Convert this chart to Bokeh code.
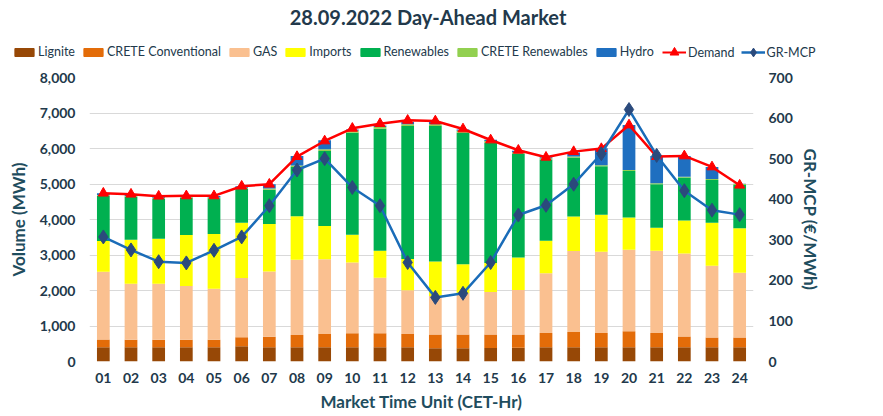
from bokeh.plotting import figure
from bokeh.models import Range1d, LinearAxis, FactorRange, Legend, LegendItem, NumeralTickFormatter, ColumnDataSource
from bokeh.layouts import column
from bokeh.embed import file_html
from bokeh.resources import INLINE

hours = ["%02d" % h for h in range(1, 25)]
lignite = [400,400,400,400,400,430,400,400,400,400,400,400,375,375,380,385,400,400,400,400,400,400,400,400]
crete_conv = [220,210,210,210,215,254,300,350,378,396,396,378,384,385,380,375,406,434,406,453,406,303,275,275]
gas = [1910,1583,1583,1517,1434,1668,1836,2117,2099,1996,1565,1227,1087,1161,1198,1255,1677,2277,2286,2295,2314,2342,2024,1827]
imports = [862,1237,1265,1434,1546,1555,1340,1228,937,778,759,881,974,815,815,918,918,974,1040,909,647,928,1208,1255]
renewables = [1274,1208,1133,1059,1002,965,965,1386,2117,2877,3439,3748,3814,3711,3392,2923,2287,1659,1368,1312,1227,1209,1209,1218]
crete_ren = [25,25,25,25,25,25,30,40,45,50,50,50,50,50,45,40,35,30,25,25,25,25,25,25]
hydro = [49,50,41,21,41,41,120,270,255,40,40,60,60,40,40,40,30,110,481,1268,772,584,340,10]
demand = [4741,4713,4657,4666,4666,4938,4994,5772,6212,6568,6700,6793,6775,6550,6240,5950,5753,5912,5997,6662,5772,5791,5481,4966]
mcp = [307,275,246,243,274,307,384,472,500,429,384,244,158,168,244,361,385,437,512,621,508,421,373,362]

series = ["Lignite", "CRETE Conventional", "GAS", "Imports", "Renewables", "CRETE Renewables", "Hydro"]
colors = ["#974806", "#e36c09", "#fac090", "#ffff00", "#00b050", "#92d050", "#1f6fc0"]
DEM_C = "#ff0000"
MCP_LINE = "#1a6cb8"
MCP_MARK = "#2b4a7c"

data = dict(hour=hours, demand=demand, mcp=mcp)
for name, vals in zip(series, [lignite, crete_conv, gas, imports, renewables, crete_ren, hydro]):
    data[name] = vals
src = ColumnDataSource(data)

TXT = "#22394b"
LBL = "#1f4d5e"
FONT = "Lato"

# ---- header figure: title + legend ----
hdr = figure(width=880, height=67, x_range=Range1d(0, 1), y_range=Range1d(0, 1),
             output_backend="svg", toolbar_location=None,
             min_border_left=0, min_border_right=20, min_border_top=0, min_border_bottom=0)
hdr.frame_align = False
hdr.axis.visible = False
hdr.grid.visible = False
hdr.outline_line_color = None
hdr.title.text = "28.09.2022  Day-Ahead Market"
hdr.title.align = "center"
hdr.title.text_font = FONT
hdr.title.text_font_size = "20px"
hdr.title.text_color = TXT
hdr.title.text_font_style = "bold"
hdr.title.offset = 0
hdr.title.standoff = 4

nan = float("nan")
bar_dummies = []
for c in colors:
    s = ColumnDataSource(dict(x=[nan], t=[nan]))
    bar_dummies.append([hdr.vbar(x="x", top="t", width=0.5, color=c, source=s)])
s = ColumnDataSource(dict(x=[nan], y=[nan]))
line_dummies = [
    [hdr.line("x", "y", color=DEM_C, line_width=2, source=s),
     hdr.scatter("x", "y", marker="triangle", size=9, color=DEM_C, source=s)],
    [hdr.line("x", "y", color=MCP_LINE, line_width=2.5, source=s),
     hdr.scatter("x", "y", marker="diamond", size=12, color=MCP_MARK, source=s)],
]

common = dict(orientation="horizontal", label_standoff=2, spacing=6, padding=0, margin=0,
              border_line_color=None, background_fill_alpha=0, label_height=14,
              label_text_font=FONT, label_text_font_size="12.5px", label_text_color=TXT)
legend1 = Legend(items=[LegendItem(label=l, renderers=r) for l, r in zip(series, bar_dummies)],
                 glyph_width=24, glyph_height=10, location=(12, 8), **common)
legend2 = Legend(items=[LegendItem(label=l, renderers=r) for l, r in zip(["Demand", "GR-MCP"], line_dummies)],
                 glyph_width=24, glyph_height=22, location=(662, 4), **common)
hdr.add_layout(legend1)
hdr.add_layout(legend2)

# ---- main chart ----
p = figure(x_range=FactorRange(*hours), y_range=Range1d(0, 8000), width=880, height=347,
           output_backend="svg", toolbar_location=None,
           min_border_left=89, min_border_right=127, min_border_top=10, min_border_bottom=53)
p.frame_align = False
p.extra_y_ranges = {"mcp": Range1d(0, 700)}

p.vbar_stack(series, x="hour", width=0.46, color=colors, source=src, line_color=None)
p.line("hour", "demand", source=src, color=DEM_C, line_width=2.5)
p.scatter("hour", "demand", source=src, marker="triangle", size=10, color=DEM_C)
p.line("hour", "mcp", source=src, color=MCP_LINE, line_width=2.5, y_range_name="mcp")
p.scatter("hour", "mcp", source=src, marker="diamond", size=14, color=MCP_MARK, y_range_name="mcp")

right = LinearAxis(y_range_name="mcp", axis_label="GR-MCP (€/MWh)")
p.add_layout(right, "right")

p.yaxis[0].axis_label = "Volume (MWh)"
p.yaxis[0].formatter = NumeralTickFormatter(format="0,0")
p.xaxis.axis_label = "Market Time Unit (CET-Hr)"

for ax in [p.xaxis[0], p.yaxis[0], right]:
    ax.axis_line_color = None
    ax.major_tick_line_color = None
    ax.minor_tick_line_color = None
    ax.major_tick_out = 0
    ax.minor_tick_out = 0
    ax.major_tick_in = 0
    ax.minor_tick_in = 0
    ax.major_label_text_font = FONT
    ax.major_label_text_font_style = "bold"
    ax.major_label_text_font_size = "14px"
    ax.major_label_text_color = TXT
    ax.axis_label_text_font = FONT
    ax.axis_label_text_font_style = "bold"
    ax.axis_label_text_font_size = "17px"
    ax.axis_label_text_color = LBL
right.ticker.desired_num_ticks = 8
p.yaxis[0].ticker.desired_num_ticks = 9
p.yaxis[0].major_label_standoff = 14
right.major_label_standoff = 15
right.axis_label_standoff = 4
p.yaxis[0].axis_label_standoff = 8
p.xaxis[0].major_label_standoff = 11
p.xaxis[0].axis_label_standoff = 5

p.xgrid.grid_line_color = None
p.ygrid.grid_line_color = "#d9d9d9"
p.outline_line_color = None
p.x_range.range_padding = 0
p.x_range.group_padding = 0

layout = column(hdr, p, spacing=0)
open("out.html", "w").write(file_html(layout, INLINE))
